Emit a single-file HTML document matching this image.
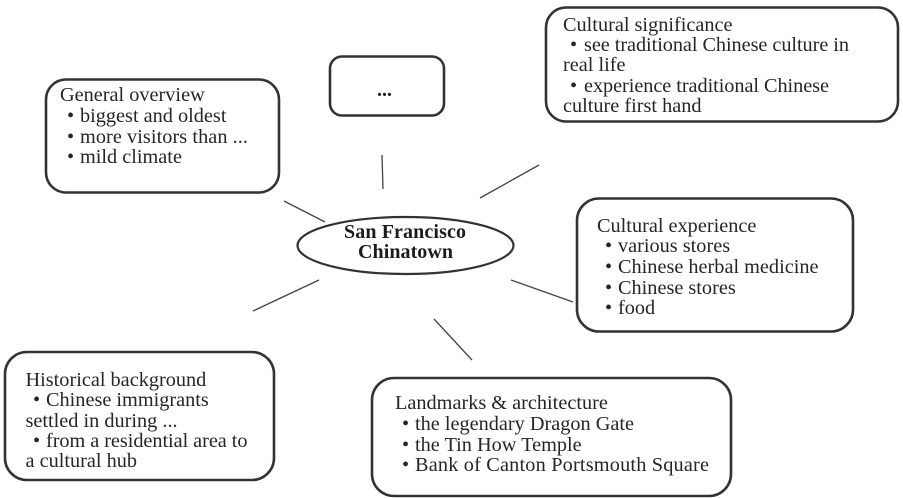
<!DOCTYPE html>
<html><head><meta charset="utf-8">
<style>
html,body{margin:0;padding:0;background:#fff;width:903px;height:498px;overflow:hidden}
svg{display:block;filter:blur(0.3px)}
text{font-family:"Liberation Serif",serif;font-size:20.3px;fill:#262626}
.b{font-weight:bold;fill:#1c1c1c;font-size:20px}
rect{fill:#fff;stroke:#333;stroke-width:2.6}
ellipse{fill:#fff;stroke:#333;stroke-width:2.2}
line{stroke:#444;stroke-width:1.3}
</style></head><body>
<svg width="903" height="498" viewBox="0 0 903 498" xmlns="http://www.w3.org/2000/svg">
<line x1="284" y1="201" x2="325" y2="222"/>
<line x1="382" y1="155" x2="383" y2="189"/>
<line x1="480" y1="198" x2="539" y2="165"/>
<line x1="511" y1="280" x2="573" y2="302"/>
<line x1="434" y1="319" x2="472" y2="360"/>
<line x1="319" y1="280" x2="253" y2="311"/>

<rect x="46" y="79.500" width="233" height="113" rx="20"/>
<rect x="330" y="56.500" width="114" height="59" rx="12"/>
<rect x="546" y="7.500" width="352" height="114" rx="20"/>
<rect x="577" y="198.500" width="276" height="133" rx="22"/>
<rect x="5" y="352" width="269" height="128" rx="22"/>
<rect x="372" y="378" width="359" height="118" rx="22"/>
<ellipse cx="405.500" cy="245.500" rx="108" ry="28.500"/>

<text class="b" x="344" y="238" textLength="122" lengthAdjust="spacing">San Francisco</text>
<text class="b" x="358" y="258" textLength="95" lengthAdjust="spacing">Chinatown</text>
<text class="b" x="377" y="96">...</text>

<text x="60" y="101">General overview</text>
<text x="67" y="122">•</text><text x="80" y="122">biggest and oldest</text>
<text x="67" y="143">•</text><text x="80" y="143" textLength="168" lengthAdjust="spacing">more visitors than ...</text>
<text x="67" y="163">•</text><text x="80" y="163">mild climate</text>

<text x="563" y="31">Cultural significance</text>
<text x="570" y="51">•</text><text x="584" y="51" textLength="265" lengthAdjust="spacing">see traditional Chinese culture in</text>
<text x="563" y="71">real life</text>
<text x="570" y="92">•</text><text x="584" y="92" textLength="245" lengthAdjust="spacing">experience traditional Chinese</text>
<text x="563" y="112">culture first hand</text>

<text x="597" y="232">Cultural experience</text>
<text x="605" y="252">•</text><text x="618" y="252">various stores</text>
<text x="605" y="273">•</text><text x="618" y="273">Chinese herbal medicine</text>
<text x="605" y="294">•</text><text x="618" y="294">Chinese stores</text>
<text x="605" y="314">•</text><text x="618" y="314">food</text>

<text x="25.500" y="386">Historical background</text>
<text x="33" y="406">•</text><text x="46" y="406">Chinese immigrants</text>
<text x="25.500" y="427">settled in during ...</text>
<text x="33" y="447">•</text><text x="46" y="447" textLength="201.500" lengthAdjust="spacing">from a residential area to</text>
<text x="25.500" y="467">a cultural hub</text>

<text x="395" y="409">Landmarks &amp; architecture</text>
<text x="402" y="430">•</text><text x="415" y="430">the legendary Dragon Gate</text>
<text x="402" y="451">•</text><text x="415" y="451">the Tin How Temple</text>
<text x="402" y="471">•</text><text x="415" y="471" textLength="294" lengthAdjust="spacing">Bank of Canton Portsmouth Square</text>
</svg>
</body></html>
